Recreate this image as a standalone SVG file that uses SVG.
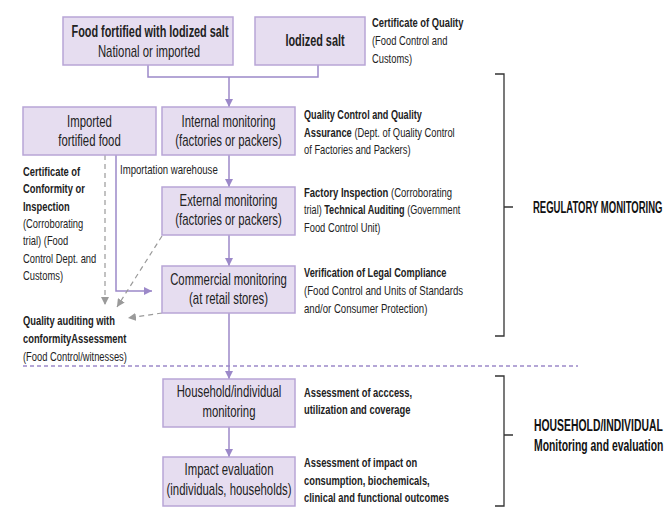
<svg xmlns="http://www.w3.org/2000/svg" width="670" height="522" viewBox="0 0 670 522">
<style>
.box{fill:#e6ddf0;stroke:#b8a5d6;stroke-width:1.5}
.t{font-family:"Liberation Sans",Arial,sans-serif;font-size:13px;fill:#222}
.bx{font-size:16px;text-anchor:middle}
.b{font-weight:bold}
.big{font-size:16px;font-weight:bold;fill:#111}
.flow{stroke:#9c89c9;stroke-width:1.5;fill:none}
.dash{stroke:#9a9a9a;stroke-width:1.2;stroke-dasharray:5,4;fill:none}
.dot{stroke:#9c89c9;stroke-width:1.5;stroke-dasharray:4,3;fill:none}
.br{stroke:#333;stroke-width:1.3;fill:none}
</style>
<defs>
<marker id="ap" viewBox="0 0 10 10" refX="10" refY="5" markerWidth="8" markerHeight="8" markerUnits="userSpaceOnUse" orient="auto"><path d="M0,0 L10,5 L0,10 z" fill="#9c89c9"/></marker>
<marker id="ag" viewBox="0 0 10 10" refX="10" refY="5" markerWidth="8" markerHeight="8" markerUnits="userSpaceOnUse" orient="auto"><path d="M0,0 L10,5 L0,10 z" fill="#9a9a9a"/></marker>
</defs>

<g id="connectors">
<polyline class="flow" points="148,65 148,77 318,77 318,65"/>
<line class="flow" x1="229" y1="77" x2="229" y2="107" marker-end="url(#ap)"/>
<line class="flow" x1="229" y1="155" x2="229" y2="187" marker-end="url(#ap)"/>
<line class="flow" x1="229" y1="235" x2="229" y2="266" marker-end="url(#ap)"/>
<line class="flow" x1="229" y1="313" x2="229" y2="379" marker-end="url(#ap)"/>
<line class="flow" x1="229" y1="427" x2="229" y2="457" marker-end="url(#ap)"/>
<polyline class="flow" points="116,155 116,291 152,291" marker-end="url(#ap)"/>
<line class="dash" x1="105" y1="155" x2="105" y2="305" marker-end="url(#ag)"/>
<line class="dash" x1="162" y1="236" x2="117" y2="307" marker-end="url(#ag)"/>
<line class="dash" x1="162" y1="313" x2="128" y2="318" marker-end="url(#ag)"/>
<line class="dot" x1="23" y1="366" x2="578" y2="366"/>
</g>

<g id="n-food-fortified">
<rect class="box" x="63" y="17" width="170" height="48"/>
<text class="t bx b" transform="translate(150,37) scale(0.68,1)">Food fortified with Iodized salt</text>
<text class="t bx" transform="translate(149,57) scale(0.71,1)">National or imported</text>
</g>
<g id="n-iodized-salt">
<rect class="box" x="255" y="17" width="110" height="48"/>
<text class="t bx b" transform="translate(315,46) scale(0.68,1)">Iodized salt</text>
</g>
<g id="l-certificate-quality">
<text class="t b" transform="translate(372,27) scale(0.72,1)">Certificate of Quality</text>
<text class="t" transform="translate(372,45) scale(0.72,1)">(Food Control and</text>
<text class="t" transform="translate(372,63) scale(0.72,1)">Customs)</text>
</g>

<g id="n-imported">
<rect class="box" x="23" y="107" width="133" height="48"/>
<text class="t bx" transform="translate(89.5,127) scale(0.71,1)">Imported</text>
<text class="t bx" transform="translate(89.5,146) scale(0.71,1)">fortified food</text>
</g>
<g id="n-internal">
<rect class="box" x="162" y="107" width="133" height="48"/>
<text class="t bx" transform="translate(228.5,127) scale(0.71,1)">Internal monitoring</text>
<text class="t bx" transform="translate(228.5,146) scale(0.71,1)">(factories or packers)</text>
</g>
<g id="l-qc">
<text class="t b" transform="translate(304,119) scale(0.70,1)">Quality Control and Quality</text>
<text class="t" transform="translate(304,137) scale(0.72,1)"><tspan class="b">Assurance</tspan> (Dept. of Quality Control</text>
<text class="t" transform="translate(304,154) scale(0.72,1)">of Factories and Packers)</text>
</g>

<g id="l-warehouse">
<text class="t" transform="translate(120,174) scale(0.74,1)">Importation warehouse</text>
</g>

<g id="l-cert-conformity">
<text class="t b" transform="translate(23,176) scale(0.72,1)">Certificate of</text>
<text class="t b" transform="translate(23,193) scale(0.72,1)">Conformity or</text>
<text class="t b" transform="translate(23,211) scale(0.72,1)">Inspection</text>
<text class="t" transform="translate(23,228) scale(0.72,1)">(Corroborating</text>
<text class="t" transform="translate(23,245) scale(0.72,1)">trial) (Food</text>
<text class="t" transform="translate(23,263) scale(0.72,1)">Control Dept. and</text>
<text class="t" transform="translate(23,280) scale(0.72,1)">Customs)</text>
</g>

<g id="n-external">
<rect class="box" x="162" y="187" width="133" height="48"/>
<text class="t bx" transform="translate(228.5,206) scale(0.71,1)">External monitoring</text>
<text class="t bx" transform="translate(228.5,225) scale(0.71,1)">(factories or packers)</text>
</g>
<g id="l-factory">
<text class="t" transform="translate(304,197) scale(0.73,1)"><tspan class="b">Factory Inspection</tspan> (Corroborating</text>
<text class="t" transform="translate(304,214) scale(0.70,1)">trial) <tspan class="b">Technical Auditing</tspan> (Government</text>
<text class="t" transform="translate(304,232) scale(0.72,1)">Food Control Unit)</text>
</g>

<g id="n-commercial">
<rect class="box" x="162" y="266" width="133" height="47"/>
<text class="t bx" transform="translate(228.5,285) scale(0.71,1)">Commercial monitoring</text>
<text class="t bx" transform="translate(228.5,304) scale(0.71,1)">(at retail stores)</text>
</g>
<g id="l-verification">
<text class="t b" transform="translate(304,277) scale(0.71,1)">Verification of Legal Compliance</text>
<text class="t" transform="translate(304,295) scale(0.74,1)">(Food Control and Units of Standards</text>
<text class="t" transform="translate(304,313) scale(0.74,1)">and/or Consumer Protection)</text>
</g>

<g id="l-quality-auditing">
<text class="t b" transform="translate(23,325) scale(0.72,1)">Quality auditing with</text>
<text class="t b" transform="translate(23,343) scale(0.72,1)">conformityAssessment</text>
<text class="t" transform="translate(23,361) scale(0.72,1)">(Food Control/witnesses)</text>
</g>

<g id="n-household">
<rect class="box" x="163" y="379" width="132" height="48"/>
<text class="t bx" transform="translate(229,397) scale(0.71,1)">Household/individual</text>
<text class="t bx" transform="translate(229,417) scale(0.71,1)">monitoring</text>
</g>
<g id="l-access">
<text class="t b" transform="translate(304,397) scale(0.72,1)">Assessment of acccess,</text>
<text class="t b" transform="translate(304,414) scale(0.72,1)">utilization and coverage</text>
</g>

<g id="n-impact">
<rect class="box" x="163" y="457" width="132" height="49"/>
<text class="t bx" transform="translate(229,475) scale(0.71,1)">Impact evaluation</text>
<text class="t bx" transform="translate(229,495) scale(0.71,1)">(individuals, households)</text>
</g>
<g id="l-impact">
<text class="t b" transform="translate(304,467) scale(0.72,1)">Assessment of impact on</text>
<text class="t b" transform="translate(304,485) scale(0.72,1)">consumption, biochemicals,</text>
<text class="t b" transform="translate(304,502) scale(0.72,1)">clinical and functional outcomes</text>
</g>

<g id="bracket-regulatory">
<path class="br" d="M495,74 H504 V336 H495 M504,207 H513"/>
<text class="t big" transform="translate(533,213) scale(0.595,1)">REGULATORY MONITORING</text>
</g>
<g id="bracket-household">
<path class="br" d="M495,376 H504 V506 H495 M504,435 H513"/>
<text class="t big" transform="translate(534,431) scale(0.65,1)">HOUSEHOLD/INDIVIDUAL</text>
<text class="t big" transform="translate(534,451) scale(0.65,1)">Monitoring and evaluation</text>
</g>
</svg>
